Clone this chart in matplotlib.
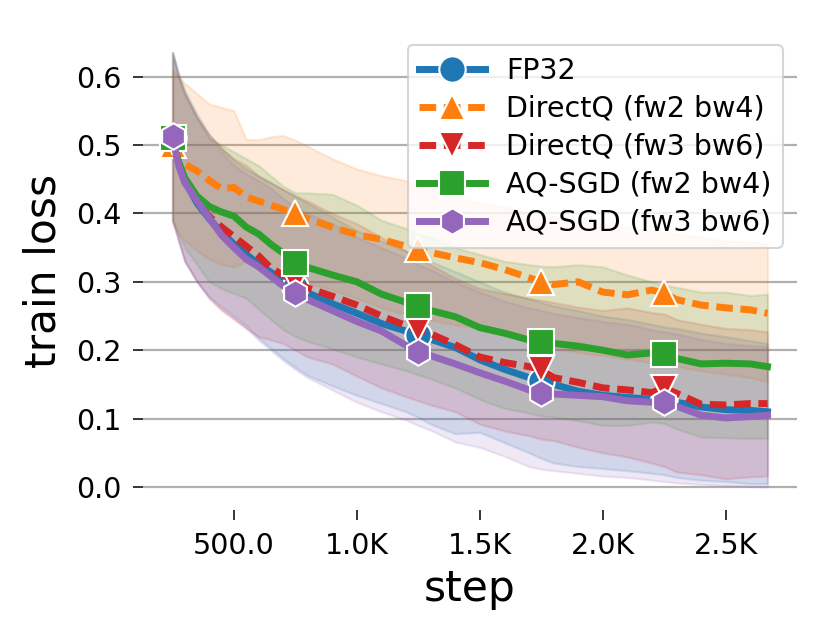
import matplotlib
matplotlib.use("Agg")
import matplotlib.pyplot as plt
from matplotlib.ticker import FuncFormatter, FixedLocator

# ---------------- data ----------------
steps = [250, 275, 300, 350, 400, 450, 500, 550, 600, 650, 700, 750, 800, 900,
         1000, 1100, 1200, 1250, 1300, 1400, 1500, 1600, 1700, 1750, 1800, 1900,
         2000, 2100, 2200, 2250, 2300, 2400, 2500, 2600, 2670]
marker_steps = [250, 750, 1250, 1750, 2250]

labels = ["FP32", "DirectQ (fw2 bw4)", "DirectQ (fw3 bw6)",
          "AQ-SGD (fw2 bw4)", "AQ-SGD (fw3 bw6)"]

fp32_mean = [0.510, 0.475, 0.448, 0.415, 0.392, 0.372, 0.355, 0.340, 0.326, 0.314,
             0.302, 0.292, 0.284, 0.268, 0.254, 0.239, 0.228, 0.222, 0.216, 0.204,
             0.186, 0.172, 0.160, 0.155, 0.150, 0.140, 0.134, 0.131, 0.128, 0.128,
             0.124, 0.117, 0.113, 0.112, 0.110]
fp32_upper = [0.635, 0.605, 0.580, 0.545, 0.515, 0.495, 0.478, 0.465, 0.455, 0.445,
              0.435, 0.425, 0.415, 0.395, 0.375, 0.360, 0.345, 0.335, 0.330, 0.315,
              0.300, 0.285, 0.275, 0.270, 0.265, 0.258, 0.250, 0.245, 0.238, 0.234,
              0.232, 0.225, 0.220, 0.214, 0.210]
fp32_lower = [0.390, 0.360, 0.330, 0.300, 0.278, 0.263, 0.250, 0.236, 0.218, 0.203,
              0.188, 0.175, 0.163, 0.148, 0.134, 0.122, 0.110, 0.102, 0.092, 0.078,
              0.080, 0.065, 0.050, 0.042, 0.035, 0.030, 0.027, 0.024, 0.020, 0.018,
              0.014, 0.010, 0.008, 0.005, 0.005]

dq24_mean = [0.500, 0.485, 0.472, 0.462, 0.448, 0.436, 0.438, 0.424, 0.418, 0.412,
             0.406, 0.400, 0.392, 0.380, 0.369, 0.362, 0.352, 0.348, 0.343, 0.335,
             0.328, 0.318, 0.306, 0.300, 0.296, 0.300, 0.285, 0.281, 0.288, 0.283,
             0.274, 0.266, 0.262, 0.259, 0.254]
dq24_upper = [0.610, 0.600, 0.590, 0.575, 0.560, 0.555, 0.550, 0.508, 0.508, 0.512,
              0.514, 0.507, 0.498, 0.480, 0.465, 0.455, 0.448, 0.440, 0.435, 0.425,
              0.415, 0.410, 0.400, 0.398, 0.395, 0.390, 0.385, 0.380, 0.375, 0.372,
              0.370, 0.365, 0.360, 0.358, 0.355]
dq24_lower = [0.385, 0.370, 0.360, 0.345, 0.333, 0.325, 0.322, 0.330, 0.325, 0.312,
              0.305, 0.302, 0.298, 0.288, 0.276, 0.262, 0.252, 0.248, 0.244, 0.237,
              0.232, 0.222, 0.212, 0.208, 0.203, 0.197, 0.192, 0.187, 0.182, 0.180,
              0.176, 0.170, 0.165, 0.160, 0.154]

dq36_mean = [0.505, 0.472, 0.448, 0.418, 0.395, 0.380, 0.366, 0.352, 0.338, 0.320,
             0.310, 0.300, 0.291, 0.279, 0.266, 0.250, 0.236, 0.231, 0.224, 0.208,
             0.190, 0.182, 0.176, 0.172, 0.160, 0.153, 0.145, 0.142, 0.138, 0.145,
             0.137, 0.121, 0.120, 0.122, 0.122]
dq36_upper = [0.635, 0.600, 0.575, 0.540, 0.515, 0.495, 0.480, 0.470, 0.455, 0.445,
              0.435, 0.426, 0.418, 0.400, 0.385, 0.365, 0.345, 0.335, 0.325, 0.305,
              0.290, 0.283, 0.276, 0.273, 0.270, 0.263, 0.258, 0.262, 0.255, 0.253,
              0.245, 0.238, 0.232, 0.230, 0.227]
dq36_lower = [0.390, 0.360, 0.330, 0.300, 0.275, 0.258, 0.245, 0.232, 0.220, 0.215,
              0.210, 0.200, 0.190, 0.180, 0.162, 0.145, 0.132, 0.126, 0.120, 0.110,
              0.092, 0.082, 0.075, 0.070, 0.068, 0.058, 0.050, 0.044, 0.035, 0.030,
              0.022, 0.018, 0.012, 0.015, 0.016]

aq24_mean = [0.510, 0.475, 0.452, 0.425, 0.410, 0.402, 0.396, 0.380, 0.370, 0.355,
             0.342, 0.327, 0.321, 0.310, 0.300, 0.282, 0.270, 0.265, 0.258, 0.249,
             0.233, 0.225, 0.215, 0.212, 0.210, 0.206, 0.200, 0.193, 0.196, 0.195,
             0.188, 0.180, 0.181, 0.180, 0.176]
aq24_upper = [0.635, 0.600, 0.575, 0.540, 0.510, 0.500, 0.490, 0.480, 0.470, 0.455,
              0.440, 0.430, 0.430, 0.428, 0.412, 0.390, 0.378, 0.370, 0.365, 0.350,
              0.340, 0.330, 0.325, 0.323, 0.322, 0.325, 0.322, 0.310, 0.300, 0.295,
              0.292, 0.285, 0.285, 0.280, 0.282]
aq24_lower = [0.390, 0.370, 0.350, 0.325, 0.300, 0.290, 0.283, 0.276, 0.260, 0.245,
              0.230, 0.220, 0.213, 0.202, 0.190, 0.180, 0.170, 0.164, 0.158, 0.145,
              0.128, 0.115, 0.108, 0.104, 0.102, 0.097, 0.090, 0.090, 0.095, 0.093,
              0.085, 0.073, 0.072, 0.071, 0.071]

aq36_mean = [0.513, 0.470, 0.445, 0.418, 0.393, 0.368, 0.350, 0.333, 0.322, 0.308,
             0.294, 0.283, 0.274, 0.258, 0.242, 0.228, 0.207, 0.198, 0.192, 0.180,
             0.167, 0.155, 0.142, 0.137, 0.136, 0.134, 0.132, 0.126, 0.124, 0.124,
             0.118, 0.105, 0.101, 0.103, 0.105]
aq36_upper = [0.635, 0.600, 0.575, 0.540, 0.510, 0.490, 0.470, 0.458, 0.448, 0.437,
              0.422, 0.410, 0.400, 0.385, 0.365, 0.350, 0.335, 0.325, 0.318, 0.300,
              0.285, 0.272, 0.262, 0.258, 0.254, 0.248, 0.242, 0.238, 0.230, 0.227,
              0.224, 0.216, 0.210, 0.207, 0.205]
aq36_lower = [0.390, 0.360, 0.330, 0.300, 0.277, 0.260, 0.247, 0.232, 0.215, 0.200,
              0.185, 0.172, 0.160, 0.142, 0.124, 0.110, 0.098, 0.090, 0.083, 0.066,
              0.058, 0.045, 0.030, 0.026, 0.024, 0.020, 0.016, 0.014, 0.010, 0.008,
              0.006, 0.004, 0.002, 0.001, 0.000]

colors = ["#1f77b4", "#ff7f0e", "#d62728", "#2ca02c", "#9467bd"]
markers = ["o", "^", "v", "s", "h"]
dashed = [False, True, True, False, False]

means = [fp32_mean, dq24_mean, dq36_mean, aq24_mean, aq36_mean]
uppers = [fp32_upper, dq24_upper, dq36_upper, aq24_upper, aq36_upper]
lowers = [fp32_lower, dq24_lower, dq36_lower, aq24_lower, aq36_lower]

# ---------------- figure ----------------
fig = plt.figure(figsize=(8.29, 6.34), dpi=100)
ax = fig.add_axes([143/829, 1 - 510/634, (797-143)/829, (510-31)/634])

mark_idx = [steps.index(s) for s in marker_steps]

for c, lo, up in zip(colors, lowers, uppers):
    ax.fill_between(steps, lo, up, color=c, alpha=0.15, linewidth=1.6, zorder=1)

for lab, c, m, d, y in zip(labels, colors, markers, dashed, means):
    ls = (0, (2.4, 1.1)) if d else "-"
    ax.plot(steps, y, color=c, lw=5, linestyle=ls, marker=m, markevery=mark_idx,
            markersize=19, markeredgecolor="white", markeredgewidth=1.5,
            label=lab, zorder=3)

ax.set_xlim(130, 2790)
ax.set_ylim(-0.0336, 0.6667)

ax.xaxis.set_major_locator(FixedLocator([500, 1000, 1500, 2000, 2500]))
ax.yaxis.set_major_locator(FixedLocator([0.0, 0.1, 0.2, 0.3, 0.4, 0.5, 0.6]))


def kfmt(v, pos):
    if v >= 1000:
        return f"{v/1000:.1f}K"
    return f"{v:.1f}"


ax.xaxis.set_major_formatter(FuncFormatter(kfmt))
ax.yaxis.set_major_formatter(FuncFormatter(lambda v, p: f"{v:.1f}"))

for sp in ax.spines.values():
    sp.set_visible(False)

ax.grid(axis="y", color="#b0b0b0", linewidth=1.6)
ax.grid(axis="x", visible=False)
ax.set_axisbelow(True)
ax.tick_params(axis="both", length=7, width=1.1, labelsize=20.5, pad=8.5,
               color="black")

ax.set_xlabel("step", fontsize=30.5, labelpad=6)
ax.set_ylabel("train loss", fontsize=30.5, labelpad=8)

leg = ax.legend(loc="upper right", fontsize=20.5, labelspacing=0.35,
                handlelength=2.3, handletextpad=0.75, borderpad=0.4,
                framealpha=0.8, edgecolor="0.8")
leg.get_frame().set_linewidth(1.5)

fig.savefig("out.png", dpi=100)
